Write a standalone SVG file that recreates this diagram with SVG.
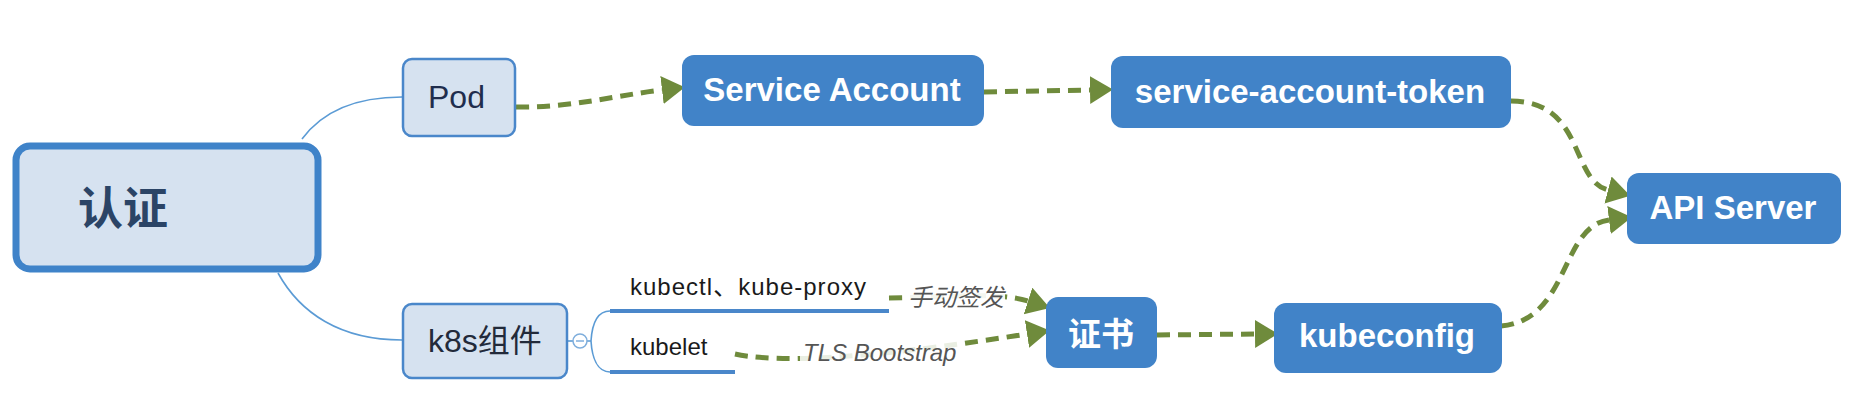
<svg xmlns="http://www.w3.org/2000/svg" width="1854" height="410" viewBox="0 0 1854 410">
<style>
.lat{font-family:"Liberation Sans","Noto Sans CJK SC",sans-serif}
.light{fill:#D6E2F0;stroke:#4A87CA;stroke-width:2.5}
.blue{fill:#4183C8}
.wt{fill:#ffffff;font-weight:bold;font-size:33px;text-anchor:middle}
.tree{fill:none;stroke:#5B9BD5;stroke-width:1.6}
.dash{fill:none;stroke:#6F8B3C;stroke-width:5;stroke-dasharray:13 8}
.lbl{fill:#555555;font-style:italic;font-size:24px}
.ul{stroke:#4A87CA;stroke-width:4}
</style>
<defs>
<marker id="ah" markerUnits="userSpaceOnUse" markerWidth="25" markerHeight="30" refX="0" refY="14" orient="auto" viewBox="0 0 25 30">
<path d="M0,0 L23,14 L0,28 z" fill="#6F8B3C"/>
</marker>
</defs>
<rect width="1854" height="410" fill="#ffffff"/>
<g id="tree-links">
<path class="tree" d="M302,139 C322,112 355,97 402,97"/>
<path class="tree" d="M278,273 C300,313 340,340 402,340"/>
<path class="tree" d="M568,341 L573,341"/>
<path class="tree" d="M587,341 L591,341 M610,311 C597,311 592,325 591,341 C592,357 597,372 610,372"/>
<line class="ul" x1="610" y1="311" x2="889" y2="311"/>
<line class="ul" x1="610" y1="372" x2="735" y2="372"/>
</g>
<g id="connectors">
<path class="dash" d="M516,107 C570,108 612,96 662,90" marker-end="url(#ah)"/>
<path class="dash" d="M984,92 L1090,90" marker-end="url(#ah)"/>
<path class="dash" d="M1511,101 C1585,101 1570,180 1608,190" marker-end="url(#ah)"/>
<path class="dash" d="M1501,326 C1570,320 1560,226 1609,220" marker-end="url(#ah)"/>
<path class="dash" d="M1157,335 L1255,334" marker-end="url(#ah)"/>
<path class="dash" d="M889,298 C950,297 1000,292 1028,301" marker-end="url(#ah)"/>
<path class="dash" d="M735,354 C800,368 950,346 1027,334" marker-end="url(#ah)"/>
<rect x="905" y="284" width="100" height="28" fill="#ffffff" opacity="0.92"/>
<text class="lat lbl" x="908" y="306">手动签发</text>
<rect x="800" y="340" width="160" height="26" fill="#ffffff" opacity="0.85"/>
<text class="lat lbl" x="803" y="361">TLS Bootstrap</text>
</g>
<g id="node-root">
<rect x="16" y="146" width="302" height="123" rx="14" fill="#D6E2F0" stroke="#3F83C9" stroke-width="7"/>
<text class="lat" x="78" y="209" font-size="45" font-weight="bold" fill="#2B4466" dominant-baseline="central">认证</text>
</g>
<g id="node-pod">
<rect class="light" x="403" y="59" width="112" height="77" rx="9"/>
<text class="lat" x="428" y="108" font-size="32" fill="#1F2D4D">Pod</text>
</g>
<g id="node-k8s">
<rect class="light" x="403" y="304" width="164" height="74" rx="9"/>
<text class="lat" x="428" y="352" font-size="32" fill="#222a3a">k8s组件</text>
<circle cx="580" cy="341" r="7" fill="#ffffff" stroke="#7FAEDC" stroke-width="1.5"/>
<line x1="576" y1="341" x2="584" y2="341" stroke="#7FAEDC" stroke-width="1.5"/>
</g>
<g id="node-kubectl">
<text class="lat" x="630" y="295" font-size="24" fill="#1a1a1a" textLength="236" lengthAdjust="spacing">kubectl、kube-proxy</text>
</g>
<g id="node-kubelet">
<text class="lat" x="630" y="355" font-size="24" fill="#1a1a1a">kubelet</text>
</g>
<g id="node-sa">
<rect class="blue" x="682" y="55" width="302" height="71" rx="12"/>
<text class="lat wt" x="832" y="101">Service Account</text>
</g>
<g id="node-sat">
<rect class="blue" x="1111" y="56" width="400" height="72" rx="12"/>
<text class="lat wt" x="1310" y="103">service-account-token</text>
</g>
<g id="node-api">
<rect class="blue" x="1627" y="173" width="214" height="71" rx="12"/>
<text class="lat wt" x="1733" y="219">API Server</text>
</g>
<g id="node-cert">
<rect class="blue" x="1046" y="297" width="111" height="71" rx="12"/>
<text class="lat wt" x="1101" y="334" dominant-baseline="central">证书</text>
</g>
<g id="node-kubeconfig">
<rect class="blue" x="1274" y="303" width="228" height="70" rx="12"/>
<text class="lat wt" x="1387" y="347">kubeconfig</text>
</g>
</svg>
